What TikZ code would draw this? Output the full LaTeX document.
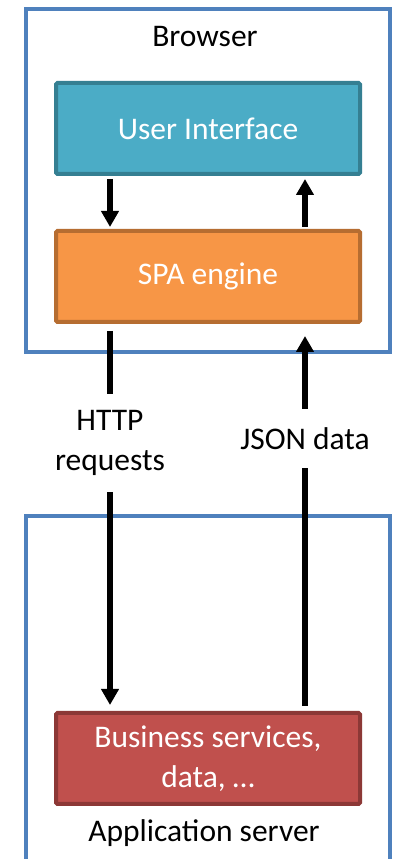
\documentclass[tikz,border=0pt]{standalone}
\usepackage{fontspec}
\setmainfont{Carlito}
\usetikzlibrary{arrows.meta}
\definecolor{frameblue}{HTML}{4F81BD}
\definecolor{uifill}{HTML}{4BACC6}
\definecolor{uiborder}{HTML}{357F92}
\definecolor{spafill}{HTML}{F79646}
\definecolor{spaborder}{HTML}{B66D31}
\definecolor{bizfill}{HTML}{C0504D}
\definecolor{bizborder}{HTML}{8C3836}
\tikzset{
  frame/.style={draw=frameblue, line width=4pt},
  compbox/.style={line width=4pt, rounded corners=1.5pt, minimum width=304pt, minimum height=91pt, text=white, align=center, inner sep=0pt},
  arr/.style={line width=6pt, -{Triangle[width=17pt,length=16pt]}},
  plainline/.style={line width=6pt},
  lbl/.style={inner sep=0pt, align=center, text=black},
}
\begin{document}
\begin{tikzpicture}[x=1pt,y=1pt,font=\fontsize{31.5}{40}\selectfont]
\useasboundingbox (0,0) rectangle (398,859);
\fill[white] (0,0) rectangle (398,859);
% Browser frame
\draw[frame] (26,507) rectangle (390,849.5);
\node (browser) at (205,822) {Browser};
% Application server frame (open at bottom)
\begin{scope}
\clip (0,0) rectangle (398,859);
\draw[frame] (26,-5) -- (26,343) -- (390,343) -- (390,-5);
\end{scope}
\node (appserver) at (204,26) {Application server};
% components
\node[compbox, fill=uifill, draw=uiborder] (ui) at (208,730.5) {User Interface};
\node[compbox, fill=spafill, draw=spaborder] (spa) at (208,582.5) {SPA engine};
\node[compbox, fill=bizfill, draw=bizborder] (biz) at (208,100.5) {Business services,\\data, \ldots};
% labels
\node[lbl, minimum height=98pt] (http) at (110,416) {HTTP\\requests};
\node[lbl, minimum height=59pt] (json) at (305,420.5) {JSON data};
% arrows inside browser
\draw[arr] ([xshift=-98pt,yshift=-3pt]ui.south) -- ([xshift=-98pt,yshift=2pt]spa.north);
\draw[arr] ([xshift=97pt,yshift=2pt]spa.north) -- ([xshift=97pt,yshift=-3pt]ui.south);
% HTTP requests
\draw[plainline] ([xshift=-98pt,yshift=-7pt]spa.south) -- (http.north);
\draw[arr] (http.south) -- ([xshift=-98pt,yshift=6pt]biz.north);
% JSON data
\draw[plainline] ([xshift=97pt,yshift=5pt]biz.north) -- (json.south);
\draw[arr] (json.north) -- ([xshift=97pt,yshift=-12pt]spa.south);
\end{tikzpicture}
\end{document}
